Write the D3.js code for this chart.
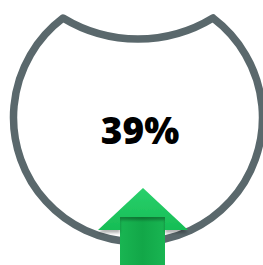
<!DOCTYPE html>
<html>
<head>
<meta charset="utf-8">
<script src="https://cdn.jsdelivr.net/npm/d3@7"></script>
<style>
  html, body { margin: 0; padding: 0; background: #fff; }
  svg { display: block; }
</style>
</head>
<body>
<div id="chart"></div>
<script>
var values = [39];
var labels = ["39%"];
var trend = ["up"];

var w = 263, h = 265;

var svg = d3.select("#chart").append("svg")
    .attr("width", w)
    .attr("height", h);

// badge outline: big circle with a bite out of the top
var cx = 138, cy = 117.5, R = 124.5;
var peakL = [63, 18], peakR = [213, 18];
var dip = 39; // lowest point of the bite
var half = (peakR[0] - peakL[0]) / 2,
    sag = dip - peakL[1],
    r2 = (half * half + sag * sag) / (2 * sag),
    cy2 = dip - r2;

var a0 = Math.atan2(peakR[1] - cy, peakR[0] - cx),
    a1 = Math.atan2(peakL[1] - cy, peakL[0] - cx) + 2 * Math.PI;
var b0 = Math.atan2(peakL[1] - cy2, peakL[0] - cx),
    b1 = Math.atan2(peakR[1] - cy2, peakR[0] - cx);

var p = d3.path();
p.moveTo(peakR[0], peakR[1]);
p.arc(cx, cy, R, a0, a1, false);
p.arc(cx, cy2, r2, b0, b1, true);
p.closePath();

svg.append("path")
    .attr("d", p.toString())
    .attr("fill", "#fff")
    .attr("stroke", "#5a686c")
    .attr("stroke-width", 7.5)
    .attr("stroke-linejoin", "round");

svg.selectAll("text.val")
    .data(labels)
    .enter().append("text")
    .attr("class", "val")
    .attr("x", 140)
    .attr("y", 144)
    .attr("text-anchor", "middle")
    .attr("font-family", "'Open Sans', Lato, sans-serif")
    .attr("font-weight", 800)
    .attr("font-size", 37)
    .attr("fill", "#000")
    .text(function(d) { return d; });

// arrow
var defs = svg.append("defs");
var g1 = defs.append("linearGradient").attr("id", "headG")
    .attr("x1", 0).attr("y1", 0).attr("x2", 0).attr("y2", 1);
g1.append("stop").attr("offset", "0%").attr("stop-color", "#2ad06c");
g1.append("stop").attr("offset", "100%").attr("stop-color", "#16bd55");
var g2 = defs.append("linearGradient").attr("id", "shaftG")
    .attr("x1", 0).attr("y1", 0).attr("x2", 1).attr("y2", 0);
g2.append("stop").attr("offset", "0%").attr("stop-color", "#19b552");
g2.append("stop").attr("offset", "50%").attr("stop-color", "#12a748");
g2.append("stop").attr("offset", "100%").attr("stop-color", "#19b552");
var f = defs.append("filter").attr("id", "sh")
    .attr("x", "-20%").attr("y", "-20%").attr("width", "140%").attr("height", "140%");
f.append("feGaussianBlur").attr("in", "SourceAlpha").attr("stdDeviation", 1.5);
f.append("feOffset").attr("dy", 3).attr("result", "b");
f.append("feComponentTransfer").append("feFuncA").attr("type", "linear").attr("slope", 0.3);
var fm = f.append("feMerge");
fm.append("feMergeNode");
fm.append("feMergeNode").attr("in", "SourceGraphic");

var ax = d3.scaleLinear().domain([-1, 1]).range([98, 188]);
var ay = d3.scaleLinear().domain([0, 1]).range([188, 230]);

var arrow = svg.append("g").data(trend);
arrow.append("rect")
    .attr("x", 120).attr("y", 214)
    .attr("width", 45).attr("height", h - 214)
    .attr("fill", "url(#shaftG)");
arrow.append("path")
    .attr("d", d3.line()([[ax(-1), ay(1)], [ax(0), ay(0)], [ax(1), ay(1)], [165, ay(1)], [165, 217], [120, 217], [120, ay(1)]]) + "Z")
    .attr("fill", "url(#headG)")
    .attr("filter", "url(#sh)");
</script>
</body>
</html>
